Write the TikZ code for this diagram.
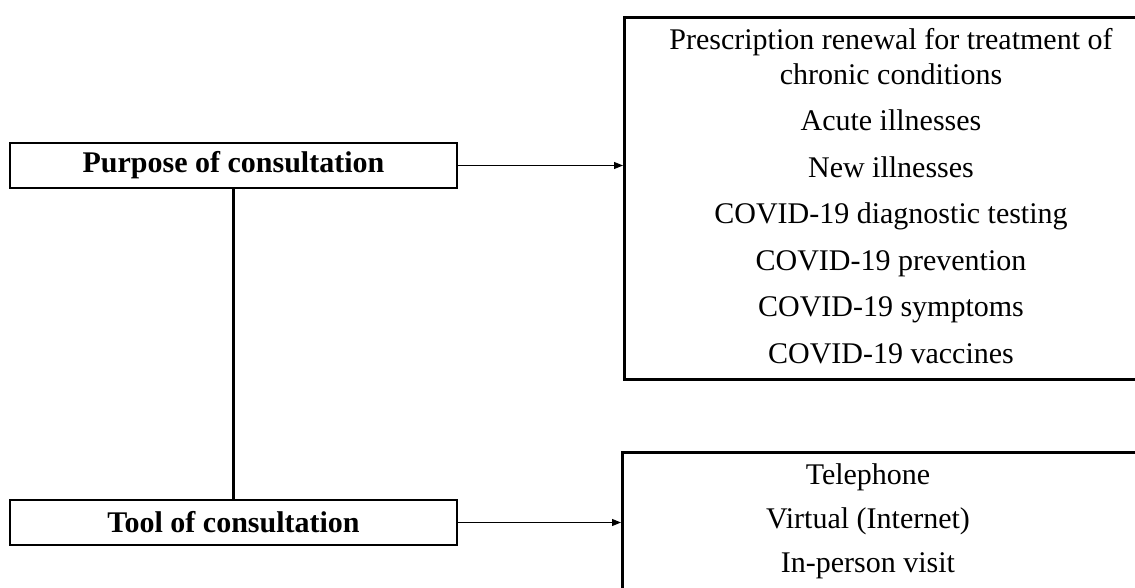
\documentclass[tikz,border=0pt]{standalone}
\usepackage{fontspec}
\setmainfont{Liberation Serif}
\usetikzlibrary{arrows.meta}

\begin{document}
\begin{tikzpicture}[
  x = 1pt,
  y = -1pt,
  headbox/.style = {
    shape = rectangle,
    draw = black,
    line width = 2.8pt,
    minimum width = 447pt,
    minimum height = 45pt,
    inner sep = 0pt,
    font = \fontsize{30}{34}\selectfont\bfseries,
  },
  listbox/.style = {
    shape = rectangle,
    draw = black,
    line width = 2.8pt,
    anchor = north west,
    inner sep = 0pt,
  },
  items/.style = {
    align = center,
    inner sep = 0pt,
    font = \fontsize{30}{35}\selectfont,
  },
  link/.style = {
    line width = 0.8pt,
    -{Triangle[length = 9pt, width = 7pt]}
  }
]
  \useasboundingbox (0, 0) rectangle (1135, 588);

  \node[headbox] (purpose) at (233.5, 165.5) {Purpose of consultation};
  \node[headbox] (tool) at (233.5, 522.5) {Tool of consultation};

  \node[listbox, minimum width = 540pt, minimum height = 362pt] (purposeList) at (623, 16) {};
  \node[items] (purposeItems) at (891, 196) {Prescription renewal for treatment of\\
    chronic conditions\\[11.5pt]
    Acute illnesses\\[11.5pt]
    New illnesses\\[11.5pt]
    COVID-19 diagnostic testing\\[11.5pt]
    COVID-19 prevention\\[11.5pt]
    COVID-19 symptoms\\[11.5pt]
    COVID-19 vaccines};

  \node[listbox, minimum width = 540pt, minimum height = 142pt] (toolList) at (621, 451) {};
  \node[items] (toolItems) at (868, 521.5) {Telephone\\[9pt]
    Virtual (Internet)\\[9pt]
    In-person visit};

  \draw[line width = 2.8pt] (purpose.south) -- (tool.north);
  \draw[link] (purpose.east) -- (purpose.east -| purposeList.west);
  \draw[link] (tool.east) -- (tool.east -| toolList.west);
\end{tikzpicture}
\end{document}
